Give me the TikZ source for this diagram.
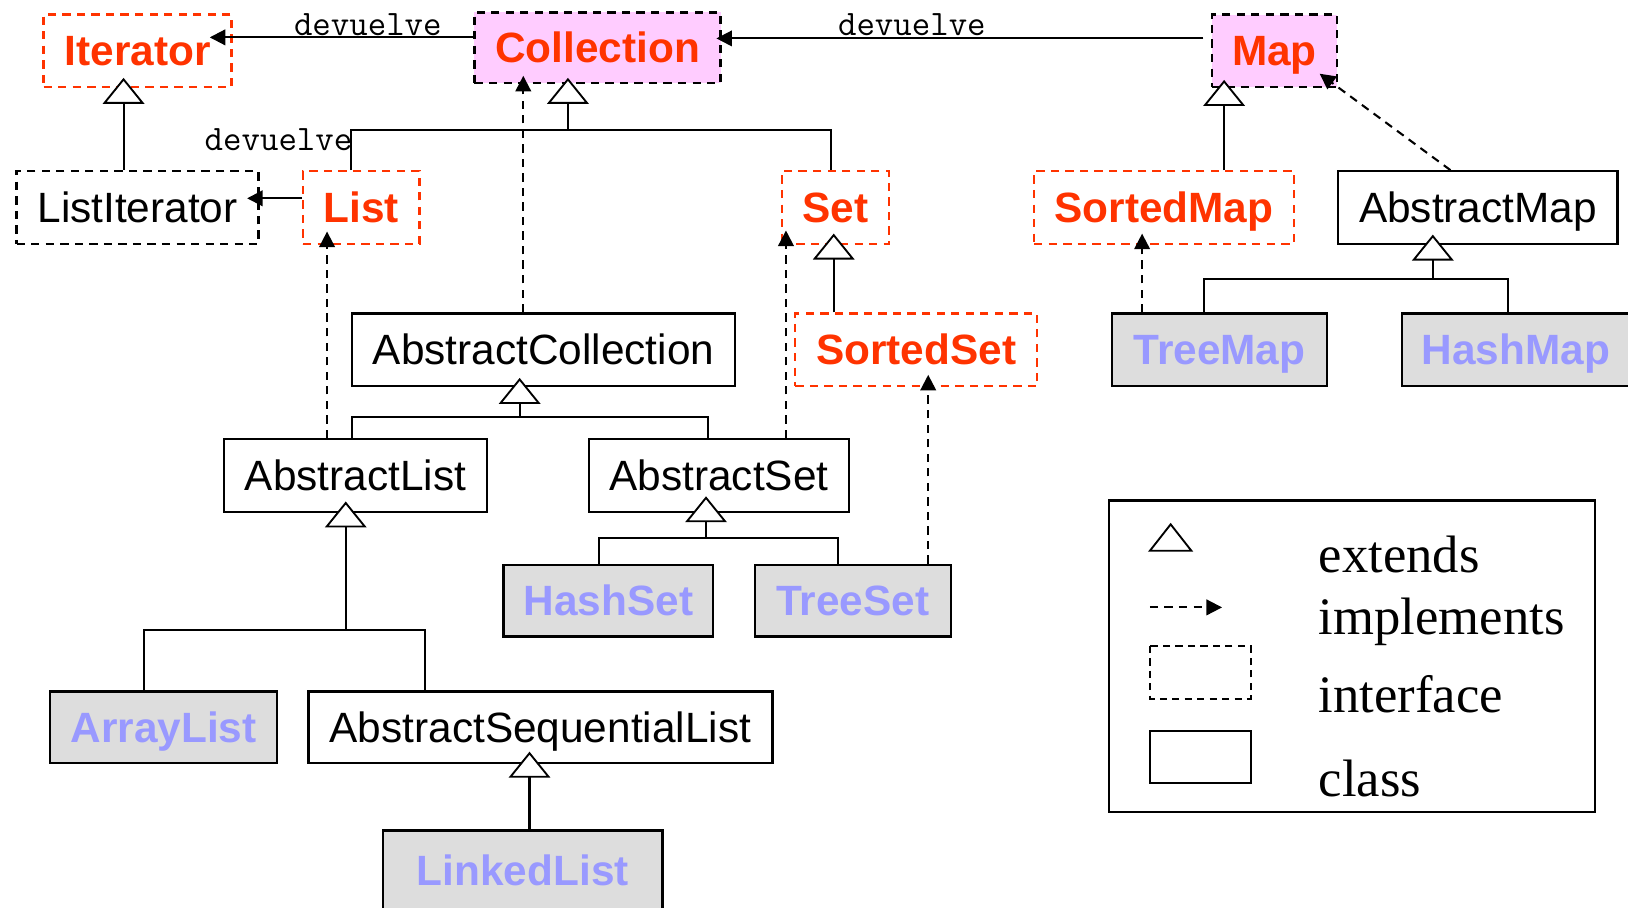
\documentclass[tikz,border=0pt]{standalone}
\usepackage{fontspec}
\setmainfont{Liberation Sans}
\newfontfamily\legserif{Liberation Serif}
\usetikzlibrary{arrows.meta,calc}
\definecolor{ired}{HTML}{FF3300}
\definecolor{pinkf}{HTML}{FFCCFF}
\definecolor{grayf}{HTML}{DDDDDD}
\definecolor{violett}{HTML}{9999FF}
\tikzset{
  box/.style={rectangle, inner sep=0pt, line width=2.2pt, text height=29pt, text depth=0pt,
    font=\fontsize{40.8}{48}\selectfont},
  iface/.style={box, draw=ired, dash pattern=on 8pt off 6pt, text=ired,
    font=\fontsize{40.8}{48}\selectfont\bfseries},
  ifacepk/.style={box, draw=black, fill=pinkf, dash pattern=on 8pt off 6pt, text=ired,
    font=\fontsize{40.8}{48}\selectfont\bfseries},
  ifacebk/.style={box, draw=black, dash pattern=on 8pt off 6pt, text=black},
  cls/.style={box, draw=black},
  conc/.style={box, draw=black, fill=grayf, text=violett,
    font=\fontsize{40.8}{48}\selectfont\bfseries},
  stem/.style={line width=2pt},
  ext/.style={line width=2pt, -{Triangle[open, fill=white, length=25pt, width=40pt, line width=1.8pt]}},
  impl/.style={line width=2pt, dash pattern=on 8pt off 6pt, -{Triangle[length=15pt,width=15pt]}},
  ret/.style={line width=2pt, -{Triangle[length=15pt,width=15pt]}},
  lbl/.style={inner sep=0pt, anchor=base west, font=\ttfamily\fontsize{34.5}{38}\selectfont},
  legtxt/.style={inner sep=0pt, anchor=base west, font=\legserif\fontsize{50.7}{56}\selectfont},
}
\begin{document}
\begin{tikzpicture}[x=1pt,y=-1pt]
\useasboundingbox (0,0) rectangle (1568,874);

% ---------- nodes ----------
\node[iface, minimum width=181, minimum height=70] (iter) at (132.5,49) {Iterator};
\node[ifacepk, minimum width=237, minimum height=68] (coll) at (575.5,46) {Collection};
\node[ifacepk, minimum width=121, minimum height=70] (map) at (1227.5,49) {Map};
\node[ifacebk, minimum width=233, minimum height=70] (listit) at (132.5,200) {ListIterator};
\node[iface, minimum width=112, minimum height=70] (list) at (348,200) {List};
\node[iface, minimum width=103, minimum height=70] (set) at (804.5,200) {Set};
\node[iface, minimum width=250, minimum height=70] (smap) at (1121,200) {SortedMap};
\node[cls, minimum width=269, minimum height=70] (amap) at (1423.5,200) {AbstractMap};
\node[cls, minimum width=369, minimum height=70] (acoll) at (523.5,337) {AbstractCollection};
\node[iface, minimum width=233, minimum height=70] (sset) at (882.5,337) {SortedSet};
\node[conc, minimum width=207, minimum height=70] (tmap) at (1174.5,337) {TreeMap};
\node[conc, minimum width=220, minimum height=70] (hmap) at (1460,337) {HashMap};
\node[cls, minimum width=253, minimum height=70] (alist) at (342.5,458) {AbstractList};
\node[cls, minimum width=251, minimum height=70] (aset) at (692.5,458) {AbstractSet};
\node[conc, minimum width=202, minimum height=69] (hset) at (586,578.5) {HashSet};
\node[conc, minimum width=189, minimum height=69] (tset) at (821.5,578.5) {TreeSet};
\node[conc, minimum width=219, minimum height=69] (alst) at (157.5,700.5) {ArrayList};
\node[cls, minimum width=447, minimum height=69] (aseq) at (520.5,700.5) {AbstractSequentialList};
\node[conc, minimum width=269, minimum height=76] (llist) at (503.5,838) {LinkedList};

% ---------- "devuelve" returns ----------
\coordinate (rIter) at (202,36);
\draw[ret] (coll.west |- rIter) -- (rIter);
\node[lbl] (d1) at (283,34) {devuelve};

\coordinate (rColl) at (690,37);
\draw[ret, shorten <=7pt] (map.west |- rColl) -- (rColl);
\node[lbl] (d2) at (807,34) {devuelve};

\coordinate (rLI) at (238,191);
\draw[ret] (list.west |- rLI) -- (rLI);
\node[lbl] (d3) at (197,145) {devuelve};

% ---------- extends ----------
\coordinate (tIter) at (119,75);
\draw[ext] (listit.north -| tIter) -- (tIter);

\coordinate (tColl) at (547,75);
\coordinate (bColl) at (547,125);
\coordinate (sList) at (338,125);
\coordinate (sSet) at (800,125);
\draw[stem] (list.north -| sList) -- (sList) -- (sSet) -- (set.north -| sSet);
\draw[ext] (bColl) -- (tColl);

\coordinate (tMap) at (1179,77);
\draw[ext] (smap.north -| tMap) -- (tMap);

\coordinate (tAMap) at (1380,226);
\coordinate (bAMap) at (1380,269);
\coordinate (sTMap) at (1160,269);
\coordinate (sHMap) at (1452,269);
\draw[stem] (tmap.north -| sTMap) -- (sTMap) -- (sHMap) -- (hmap.north -| sHMap);
\draw[ext] (bAMap) -- (tAMap);

\coordinate (tSet) at (803,225);
\draw[ext] (sset.north -| tSet) -- (tSet);

\coordinate (tACol) at (500.5,364);
\coordinate (bACol) at (500.5,402);
\coordinate (sAList) at (339,402);
\coordinate (sASet) at (682,402);
\draw[stem] (alist.north -| sAList) -- (sAList) -- (sASet) -- (aset.north -| sASet);
\draw[ext] (bACol) -- (tACol);

\coordinate (tAL) at (333,483);
\coordinate (bAL) at (333,607);
\coordinate (sArr) at (139,607);
\coordinate (sSeq) at (409,607);
\draw[stem] (alst.north -| sArr) -- (sArr) -- (sSeq) -- (aseq.north -| sSeq);
\draw[ext] (bAL) -- (tAL);

\coordinate (tAS) at (680,478);
\coordinate (bAS) at (680,518);
\coordinate (sHS) at (577,518);
\coordinate (sTS) at (807.5,518);
\draw[stem] (hset.north -| sHS) -- (sHS) -- (sTS) -- (tset.north -| sTS);
\draw[ext] (bAS) -- (tAS);

\coordinate (tSeq) at (510,724);
\draw[ext] (llist.north -| tSeq) -- (tSeq);

% ---------- implements ----------
\coordinate (iColl) at (504,73);
\draw[impl] (acoll.north -| iColl) -- (iColl);
\coordinate (iList) at (315,223);
\draw[impl] (alist.north -| iList) -- (iList);
\coordinate (iSet) at (757,222);
\draw[impl] (aset.north -| iSet) -- (iSet);
\coordinate (iSSet) at (894,361);
\draw[impl] (tset.north -| iSSet) -- (iSSet);
\coordinate (iSMap) at (1100,225);
\draw[impl] (tmap.north -| iSMap) -- (iSMap);
\coordinate (iMap) at (1271,71);
\draw[impl] ([xshift=-26.5pt]amap.north) -- (iMap);

% ---------- legend ----------
\node[draw, line width=2.2pt, inner sep=0pt, minimum width=468.5, minimum height=300] (legend) at (1302.25,632) {};
\draw[line width=1.8pt, fill=white] (1107.5,530.5) -- (1147.5,530.5) -- (1127.5,505) -- cycle;
\coordinate (lgA) at (1107.5,585);
\coordinate (lgB) at (1177,585);
\draw[impl] (lgA) -- (lgB);
\draw[line width=1.8pt, dash pattern=on 7pt off 5pt] (1108,622) rectangle (1204.5,673);
\draw[line width=1.8pt] (1108,704) rectangle (1204.5,754);
\node[legtxt] (lext) at (1270,551.5) {extends};
\node[legtxt] (limp) at (1270,611.5) {implements};
\node[legtxt] (lint) at (1270,686.5) {interface};
\node[legtxt] (lcls) at (1270,767.5) {class};
\end{tikzpicture}
\end{document}
